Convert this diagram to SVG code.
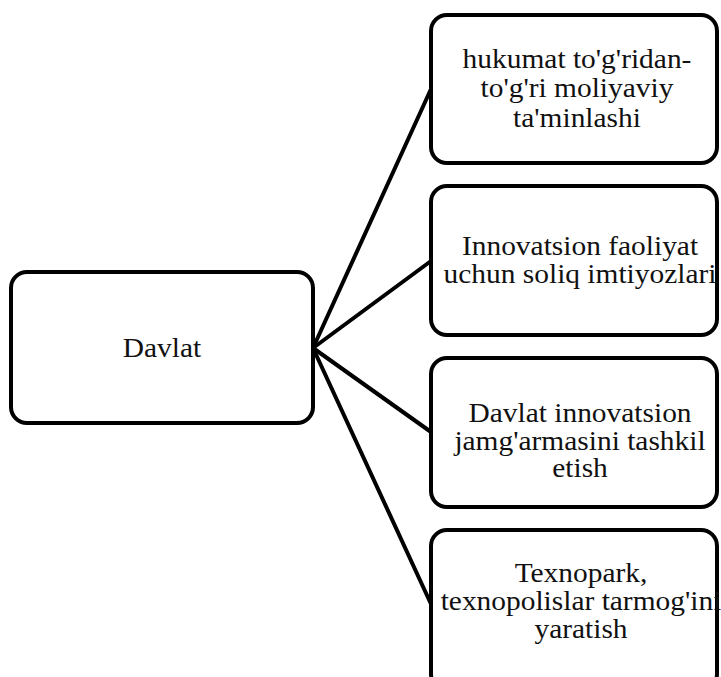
<svg xmlns="http://www.w3.org/2000/svg" width="721" height="677" viewBox="0 0 721 677">
  <style>
    .box { fill: #ffffff; stroke: #000000; stroke-width: 4; }
    .link { stroke: #000000; stroke-width: 4; fill: none; stroke-linecap: round; }
    .lbl { font-family: "Liberation Serif", "Times New Roman", serif; font-size: 27px; fill: #111111; text-anchor: middle; }
  </style>
  <rect width="721" height="677" fill="#ffffff"/>

  <!-- connectors from the root to each child -->
  <g id="connectors">
    <line class="link" x1="313" y1="348" x2="431" y2="89"/>
    <line class="link" x1="313" y1="348" x2="431" y2="261"/>
    <line class="link" x1="313" y1="348" x2="431" y2="432"/>
    <line class="link" x1="313" y1="348" x2="431" y2="604"/>
  </g>

  <g id="root">
    <rect class="box" x="11" y="272" width="302" height="151" rx="16"/>
    <g transform="translate(162,0) scale(1.09,1)"><text class="lbl" x="0" y="357">Davlat</text></g>
  </g>

  <g id="child1">
    <rect class="box" x="431" y="15" width="286" height="148" rx="16"/>
    <g transform="translate(577,0) scale(1.09,1)">
      <text class="lbl" x="0" y="68">hukumat to'g'ridan-</text>
      <text class="lbl" x="0" y="97">to'g'ri moliyaviy</text>
      <text class="lbl" x="0" y="127">ta'minlashi</text>
    </g>
  </g>

  <g id="child2">
    <rect class="box" x="431" y="186" width="286" height="149" rx="16"/>
    <g transform="translate(580,0) scale(1.09,1)">
      <text class="lbl" x="0" y="255">Innovatsion faoliyat</text>
      <text class="lbl" x="0" y="283">uchun soliq imtiyozlari</text>
    </g>
  </g>

  <g id="child3">
    <rect class="box" x="431" y="358" width="286" height="149" rx="16"/>
    <g transform="translate(580,0) scale(1.09,1)">
      <text class="lbl" x="0" y="422">Davlat innovatsion</text>
      <text class="lbl" x="0" y="450">jamg'armasini tashkil</text>
      <text class="lbl" x="0" y="477">etish</text>
    </g>
  </g>

  <g id="child4">
    <rect class="box" x="431" y="530" width="286" height="160" rx="16"/>
    <g transform="translate(581,0) scale(1.09,1)">
      <text class="lbl" x="0" y="582">Texnopark,</text>
      <text class="lbl" x="0" y="610">texnopolislar tarmog'ini</text>
      <text class="lbl" x="0" y="638">yaratish</text>
    </g>
  </g>
</svg>
